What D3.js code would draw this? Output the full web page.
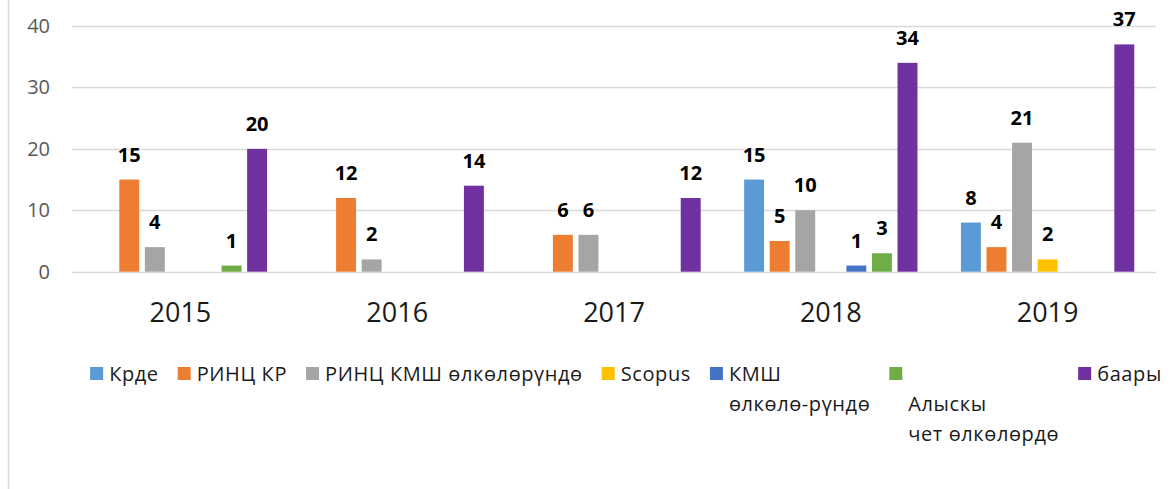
<!DOCTYPE html>
<html>
<head>
<meta charset="utf-8">
<script src="https://cdn.jsdelivr.net/npm/d3@7"></script>
<style>
  html, body { margin: 0; padding: 0; background: #fff; }
  svg { display: block; font-family: "Open Sans", "Noto Sans", sans-serif; }
</style>
</head>
<body>
<svg id="chart" width="1174" height="489"></svg>
<script>
const years = ['2015', '2016', '2017', '2018', '2019'];
const seriesNames = ['Крде', 'РИНЦ КР', 'РИНЦ КМШ өлкөлөрүндө', 'Scopus', 'КМШ өлкөлөрүндө', 'Алыскы чет өлкөлөрдө', 'баары'];
// legend labels, wrapped as in the original
const legendLabels = [['Крде'], ['РИНЦ КР'], ['РИНЦ КМШ өлкөлөрүндө'], ['Scopus'], ['КМШ', 'өлкөлө-рүндө'], ['', 'Алыскы', 'чет өлкөлөрдө'], ['баары']];
const seriesColors = ['#5b9bd5', '#ed7d31', '#a5a5a5', '#ffc000', '#4472c4', '#70ad47', '#7030a0'];

const krde = [0, 0, 0, 15, 8];
const rincKR = [15, 12, 6, 5, 4];
const rincKMSH = [4, 2, 6, 10, 21];
const scopus = [0, 0, 0, 0, 2];
const kmsh = [0, 0, 0, 1, 0];
const alysky = [1, 0, 0, 3, 0];
const baary = [20, 14, 12, 34, 37];
const yTicks = [0, 10, 20, 30, 40];

const allSeries = [krde, rincKR, rincKMSH, scopus, kmsh, alysky, baary];

const svg = d3.select('#chart');

// frame line on the left
svg.append('line')
  .attr('x1', 8.5).attr('x2', 8.5)
  .attr('y1', 0).attr('y2', 489)
  .attr('stroke', '#d9d9d9').attr('stroke-width', 1.5);

const x0 = d3.scaleBand().domain(years).range([72, 1156]).padding(0);
const x1 = d3.scaleBand().domain(d3.range(seriesNames.length))
  .range([0, x0.bandwidth()]).paddingInner(0.22).paddingOuter(0.85);
const y = d3.scaleLinear().domain([0, 40]).range([271.7, 26]);

// gridlines
svg.append('g')
  .selectAll('line')
  .data(yTicks)
  .join('line')
  .attr('x1', 72).attr('x2', 1156)
  .attr('y1', d => Math.round(y(d)) + 0.5)
  .attr('y2', d => Math.round(y(d)) + 0.5)
  .attr('stroke', '#d9d9d9').attr('stroke-width', 1.3);

// y axis labels
const yAxis = svg.append('g')
  .attr('transform', 'translate(50,0)')
  .call(d3.axisLeft(y).tickValues(yTicks).tickSize(0).tickPadding(0));
yAxis.select('.domain').remove();
yAxis.selectAll('text')
  .attr('fill', '#595959')
  .attr('font-size', 20)
  .attr('font-family', '"Open Sans", sans-serif');

// x axis labels
const xAxis = svg.append('g')
  .attr('transform', 'translate(0,302)')
  .call(d3.axisBottom(x0).tickSize(0).tickPadding(0));
xAxis.select('.domain').remove();
xAxis.selectAll('text')
  .attr('fill', '#1a1a1a')
  .attr('font-size', 27)
  .attr('dy', '0.75em')
  .attr('font-family', '"Open Sans", sans-serif');

// bars
const flat = [];
allSeries.forEach((vals, si) => {
  vals.forEach((v, yi) => {
    if (v > 0) flat.push({ year: years[yi], si, value: v });
  });
});

const bars = svg.append('g');
bars.selectAll('rect')
  .data(flat)
  .join('rect')
  .attr('x', d => x0(d.year) + x1(d.si))
  .attr('y', d => y(d.value))
  .attr('width', x1.bandwidth())
  .attr('height', d => y(0) - y(d.value))
  .attr('fill', d => seriesColors[d.si]);

// value labels
bars.selectAll('text')
  .data(flat)
  .join('text')
  .attr('x', d => x0(d.year) + x1(d.si) + x1.bandwidth() / 2)
  .attr('y', d => y(d.value) - 18)
  .attr('text-anchor', 'middle')
  .attr('font-size', 20)
  .attr('font-weight', 'bold')
  .attr('fill', '#000')
  .text(d => d.value);

// legend
const legend = svg.append('g');
const items = legend.selectAll('g')
  .data(legendLabels)
  .join('g');

items.append('rect')
  .attr('x', 0).attr('y', 367)
  .attr('width', 13).attr('height', 13)
  .attr('fill', (_, i) => seriesColors[i]);

items.append('text')
  .attr('font-size', 20)
  .attr('letter-spacing', 0.6)
  .attr('fill', '#1a1a1a')
  .selectAll('tspan')
  .data(d => d)
  .join('tspan')
  .attr('x', 19)
  .attr('y', (_, j) => 381 + j * 30)
  .text(d => d);

// place legend items one after another
let cx = 0;
const offsets = [];
items.each(function () {
  const w = this.getBBox().width;
  offsets.push(cx);
  cx += w + 19;
});
const totalW = cx - 19;
const startX = 626 - totalW / 2;
items.attr('transform', (_, i) => `translate(${startX + offsets[i]},0)`);
</script>
</body>
</html>
